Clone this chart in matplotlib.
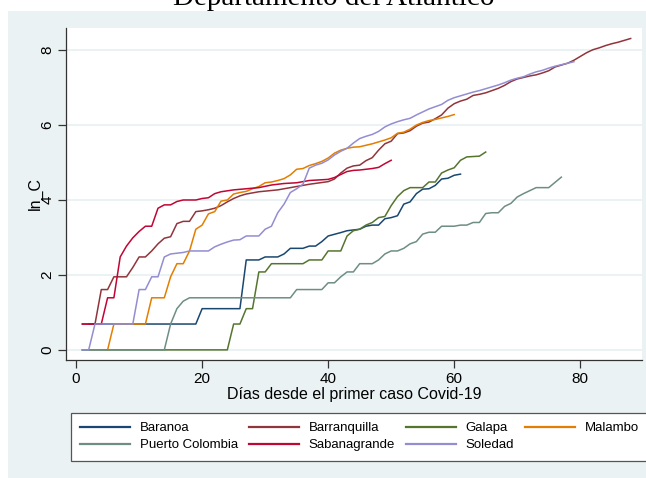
import matplotlib
matplotlib.use("Agg")
import matplotlib.pyplot as plt
from matplotlib.patches import Rectangle

plt.rcParams['font.family'] = ['Liberation Sans', 'DejaVu Sans']

# ln of cumulative cases (day, ln_C)
baranoa_d = [2, 19, 20, 26, 27, 29, 30, 32, 33, 34, 36, 37, 38, 39, 40, 42, 43, 45, 46, 47, 48, 49, 50, 51, 52, 53, 54, 55, 56, 57, 58, 59, 60, 61]
baranoa_y = [0.69, 0.69, 1.10, 1.10, 2.40, 2.40, 2.48, 2.48, 2.56, 2.71, 2.71, 2.77, 2.77, 2.89, 3.04, 3.13, 3.18, 3.22, 3.30, 3.33, 3.33, 3.50, 3.53, 3.58, 3.89, 3.95, 4.17, 4.29, 4.30, 4.39, 4.56, 4.58, 4.66, 4.69]

barranquilla_d = [1, 3, 4, 5, 6, 8, 9, 10, 11, 12, 13, 14, 15, 16, 17, 18, 19, 20, 21, 22, 23, 24, 25, 26, 27, 29, 32, 34, 37, 40, 41, 42, 43, 44, 45, 46, 47, 48, 49, 50,
                  51, 52, 53, 54, 55, 56, 57, 58, 59, 60, 61, 62, 63, 64, 65, 66, 67, 68, 69, 70, 71, 72, 73, 74, 75, 76, 77, 78, 79, 80, 81, 82, 83, 84, 85, 86, 87, 88]
barranquilla_y = [0.69, 0.69, 1.61, 1.61, 1.95, 1.95, 2.20, 2.48, 2.48, 2.64, 2.83, 2.98, 3.02, 3.37, 3.43, 3.43, 3.69, 3.71, 3.74, 3.78, 3.85, 3.95, 4.04, 4.11, 4.16, 4.22, 4.27, 4.33, 4.42, 4.49,
                  4.56, 4.72, 4.85, 4.91, 4.93, 5.05, 5.13, 5.33, 5.50, 5.57, 5.77, 5.79, 5.85, 5.97, 6.05, 6.08, 6.17, 6.27, 6.45, 6.57, 6.64, 6.69, 6.79, 6.82, 6.86, 6.92, 6.98, 7.06,
                  7.16, 7.23, 7.27, 7.31, 7.34, 7.39, 7.45, 7.55, 7.60, 7.65, 7.73, 7.83, 7.93, 8.01, 8.06, 8.12, 8.17, 8.21, 8.26, 8.31]

galapa_d = [1, 24, 25, 26, 27, 28, 29, 30, 31, 36, 37, 39, 40, 42, 43, 44, 45, 46, 47, 48, 49, 50, 51, 52, 53, 55, 56, 57, 58, 59, 60, 61, 62, 64, 65]
galapa_y = [0, 0, 0.69, 0.69, 1.10, 1.10, 2.08, 2.08, 2.30, 2.30, 2.40, 2.40, 2.64, 2.64, 3.04, 3.18, 3.22, 3.33, 3.40, 3.53, 3.56, 3.85, 4.09, 4.25, 4.33, 4.33, 4.48, 4.48, 4.72, 4.80, 4.86, 5.06, 5.15, 5.17, 5.28]

malambo_d = [5, 6, 11, 12, 14, 15, 16, 17, 18, 19, 20, 21, 22, 23, 24, 25, 26, 27, 28, 29, 30, 31, 32, 33, 34, 35, 36, 37, 38, 39, 40, 41, 42, 43, 44, 45, 46, 47, 48, 49,
             50, 51, 52, 53, 54, 55, 56, 57, 58, 59, 60]
malambo_y = [0, 0.69, 0.69, 1.39, 1.39, 1.95, 2.30, 2.30, 2.64, 3.22, 3.33, 3.63, 3.69, 3.97, 4.00, 4.16, 4.20, 4.23, 4.30, 4.36, 4.46, 4.48, 4.52, 4.57, 4.67, 4.82, 4.84, 4.92, 4.97,
             5.03, 5.12, 5.25, 5.33, 5.38, 5.41, 5.42, 5.46, 5.50, 5.55, 5.60, 5.66, 5.78, 5.81, 5.89, 6.00, 6.07, 6.12, 6.15, 6.19, 6.23, 6.28]

pcolombia_d = [1, 14, 15, 16, 17, 18, 34, 35, 39, 40, 41, 42, 43, 44, 45, 47, 48, 49, 50, 51, 52, 53, 54, 55, 56, 57, 58, 60, 61, 62, 63, 64, 65, 66, 67, 68, 69, 70, 71, 72, 73, 75, 77]
pcolombia_y = [0, 0, 0.69, 1.10, 1.30, 1.39, 1.39, 1.61, 1.61, 1.79, 1.79, 1.95, 2.08, 2.08, 2.30, 2.30, 2.40, 2.56, 2.64, 2.64, 2.71, 2.83, 2.89, 3.09, 3.14, 3.14, 3.30, 3.30, 3.33,
               3.33, 3.40, 3.40, 3.64, 3.66, 3.66, 3.83, 3.91, 4.08, 4.17, 4.25, 4.33, 4.33, 4.61]

sabanagrande_d = [1, 4, 5, 6, 7, 8, 9, 10, 11, 12, 13, 14, 15, 16, 17, 19, 20, 21, 22, 23, 25, 27, 29, 31, 33, 35, 37, 40, 41, 42, 43, 44, 45, 46, 47, 48, 49, 50]
sabanagrande_y = [0.69, 0.69, 1.39, 1.39, 2.48, 2.77, 2.99, 3.16, 3.30, 3.30, 3.78, 3.87, 3.87, 3.96, 4.00, 4.00, 4.04, 4.06, 4.17, 4.22, 4.27, 4.30, 4.33, 4.40, 4.44, 4.46, 4.52,
                  4.55, 4.60, 4.68, 4.76, 4.79, 4.80, 4.82, 4.84, 4.87, 4.97, 5.06]

soledad_d = [1, 2, 3, 9, 10, 11, 12, 13, 14, 15, 16, 17, 18, 21, 22, 23, 24, 25, 26, 27, 29, 30, 31, 32, 33, 34, 35, 36, 37, 38, 39, 40, 41, 42, 43, 44, 45, 46, 47, 48, 49,
             50, 51, 52, 53, 54, 55, 56, 57, 58, 59, 60, 61, 62, 63, 64, 65, 66, 67, 68, 69, 70, 71, 72, 73, 74, 75, 76, 77, 78, 79]
soledad_y = [0, 0, 0.69, 0.69, 1.61, 1.61, 1.95, 1.95, 2.48, 2.56, 2.58, 2.60, 2.64, 2.64, 2.75, 2.82, 2.88, 2.93, 2.94, 3.04, 3.04, 3.22, 3.30, 3.66, 3.89, 4.20, 4.30, 4.42, 4.85,
             4.93, 4.98, 5.07, 5.20, 5.30, 5.38, 5.52, 5.64, 5.70, 5.75, 5.83, 5.95, 6.03, 6.09, 6.14, 6.18, 6.27, 6.35, 6.43, 6.49, 6.55, 6.66, 6.73, 6.78, 6.83, 6.88, 6.92,
             6.97, 7.02, 7.07, 7.13, 7.20, 7.25, 7.29, 7.36, 7.42, 7.46, 7.52, 7.57, 7.61, 7.65, 7.69]

series = [
    ("Baranoa", baranoa_d, baranoa_y, "#1A476F"),
    ("Barranquilla", barranquilla_d, barranquilla_y, "#90353B"),
    ("Galapa", galapa_d, galapa_y, "#55752F"),
    ("Malambo", malambo_d, malambo_y, "#E37E00"),
    ("Puerto Colombia", pcolombia_d, pcolombia_y, "#6E8E84"),
    ("Sabanagrande", sabanagrande_d, sabanagrande_y, "#C10534"),
    ("Soledad", soledad_d, soledad_y, "#938DD2"),
]

W, H = 646, 478
fig = plt.figure(figsize=(W / 100, H / 100), dpi=100, facecolor="white")
fig.patches.append(Rectangle((8 / W, 0), 638 / W, (H - 11) / H, transform=fig.transFigure,
                             facecolor="#EAF2F3", edgecolor="none", zorder=-5))

ax = fig.add_axes([66 / W, 1 - 360 / H, 576 / W, 332 / H])
ax.set_facecolor("white")

for name, d, y, c in series:
    ax.plot(d, y, color=c, lw=1.1, label=name)

ax.set_xlim(-1.6, 89.8)
ax.set_ylim(-0.27, 8.59)
ax.set_xticks([0, 20, 40, 60, 80])
ax.set_yticks([0, 2, 4, 6, 8])
ax.yaxis.grid(True, color="#EAF2F3", lw=1.4)
ax.set_axisbelow(True)
for s in ["top", "right"]:
    ax.spines[s].set_visible(False)
for s in ["left", "bottom"]:
    ax.spines[s].set_color("#333333")
    ax.spines[s].set_linewidth(0.9)
ax.tick_params(length=5.5, width=0.9, color="#333333", labelsize=11, pad=3)
for lab in ax.get_yticklabels():
    lab.set_rotation(90)
    lab.set_va("center")

ax.set_xlabel("Días desde el primer caso Covid-19", fontsize=11.5, labelpad=1)
ax.set_ylabel("ln_C", fontsize=11.5)
ax.yaxis.set_label_coords(-0.041, 0.5)

fig.text(0.517, 1 - 5 / H, "Departamento del Atlántico", family="Liberation Serif",
         fontsize=21, ha="center", va="baseline")

# legend filled row by row like Stata
handles, labels = ax.get_legend_handles_labels()
order = [0, 4, 1, 5, 2, 6, 3]
leg = fig.legend([handles[i] for i in order], [labels[i] for i in order],
                 loc="upper left", bbox_to_anchor=(71 / W, 1 - 413 / H), ncol=4,
                 fontsize=9.5, handlelength=3.8, handletextpad=0.72, columnspacing=0.83,
                 labelspacing=0.35, borderpad=0.7, borderaxespad=0, fancybox=False,
                 framealpha=1, edgecolor="#555555")
leg.get_frame().set_linewidth(0.9)
for l in leg.get_lines():
    l.set_linewidth(1.6)

fig.savefig("out.png", dpi=100, facecolor="white")
